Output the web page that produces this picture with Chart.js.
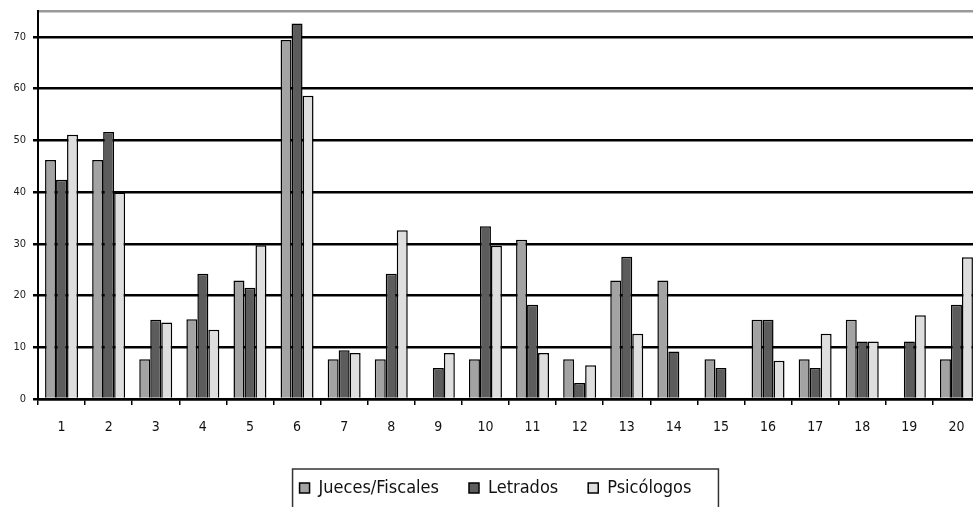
<!DOCTYPE html>
<html>
<head>
<meta charset="utf-8">
<script src="https://cdn.jsdelivr.net/npm/chart.js@4/dist/chart.umd.min.js"></script>
<style>
  html, body { margin: 0; padding: 0; background: #fff; overflow: hidden; }
  #wrap { width: 980px; height: 507px; position: relative; }
</style>
</head>
<body>
<div id="wrap"><canvas id="chart"></canvas></div>
<script>
// categories 1..20 and the three groups
const categories = ['1','2','3','4','5','6','7','8','9','10','11','12','13','14','15','16','17','18','19','20'];
const jueces     = [46.2, 46.2, 7.7, 15.4, 22.9, 69.4, 7.7, 7.7, 0, 7.7, 30.8, 7.7, 22.9, 22.9, 7.7, 15.3, 7.7, 15.3, 0, 7.7];
const letrados   = [42.4, 51.6, 15.3, 24.2, 21.5, 72.6, 9.4, 24.2, 6.0, 33.4, 18.2, 3.1, 27.5, 9.2, 6.0, 15.3, 6.0, 11.1, 11.1, 18.2];
const psicologos = [51.1, 39.9, 14.8, 13.4, 29.7, 58.6, 8.9, 32.6, 8.9, 29.6, 8.9, 6.5, 12.6, 0, 0, 7.4, 12.6, 11.1, 16.2, 27.4];
const yTicks = [0, 10, 20, 30, 40, 50, 60, 70];

const FONT = "'Liberation Sans Narrow', 'DejaVu Sans Condensed', 'Roboto', sans-serif";
Chart.defaults.font.family = FONT;

// frame around the legend, like the old spreadsheet look
const legendFrame = {
  id: 'legendFrame',
  afterDraw(chart) {
    const boxes = chart.legend.legendHitBoxes;
    if (!boxes || !boxes.length) return;
    const first = boxes[0], last = boxes[boxes.length - 1];
    const ctx = chart.ctx;
    ctx.save();
    ctx.strokeStyle = '#333';
    ctx.lineWidth = 1.5;
    ctx.strokeRect(first.left - 7, first.top - 10, last.left + last.width - first.left + 34, 80);
    ctx.restore();
  }
};

new Chart(document.getElementById('chart').getContext('2d'), {
  type: 'bar',
  data: {
    labels: categories,
    datasets: [
      { label: 'Jueces/Fiscales', data: jueces,     backgroundColor: '#a3a3a3' },
      { label: 'Letrados',        data: letrados,   backgroundColor: '#5c5c5c' },
      { label: 'Psicólogos',      data: psicologos, backgroundColor: '#dedede' }
    ]
  },
  options: {
    responsive: true,
    maintainAspectRatio: false,
    animation: false,
    layout: { padding: { top: 11, left: 11, right: 0, bottom: 0 } },
    datasets: {
      bar: {
        categoryPercentage: 0.7,
        barPercentage: 1.0,
        borderColor: '#000',
        borderWidth: 1.5,
        borderSkipped: 'start'
      }
    },
    scales: {
      x: {
        grid: { offset: true, drawOnChartArea: false, drawTicks: true, tickLength: 6, color: '#000', lineWidth: 1.5 },
        border: { color: '#000', width: 2.5 },
        ticks: { color: '#111', font: { size: 14 }, padding: 14, maxRotation: 0 },
        afterFit(scale) { scale.height = 50; }
      },
      y: {
        min: 0,
        max: 75,
        afterBuildTicks(scale) {
          scale.ticks = yTicks.concat([75]).map(v => ({ value: v }));
        },
        grid: {
          color: c => (c.tick && c.tick.value === 75) ? '#9a9a9a' : '#000',
          tickColor: c => (c.tick && c.tick.value === 75) ? 'rgba(0,0,0,0)' : '#000',
          lineWidth: 2.5,
          tickLength: 5
        },
        border: { color: '#000', width: 2 },
        ticks: {
          color: '#222',
          font: { size: 11 },
          padding: 7,
          callback: v => (yTicks.includes(v) ? String(v) : '')
        },
        afterFit(scale) {
          scale.width = 27;
          scale.paddingTop = 0;
          scale.paddingBottom = 0;
        }
      }
    },
    plugins: {
      legend: {
        position: 'bottom',
        labels: {
          color: '#111',
          font: { size: 18 },
          boxWidth: 10,
          boxHeight: 10,
          padding: 30
        }
      },
      tooltip: { enabled: false }
    }
  },
  plugins: [legendFrame]
});
</script>
</body>
</html>
